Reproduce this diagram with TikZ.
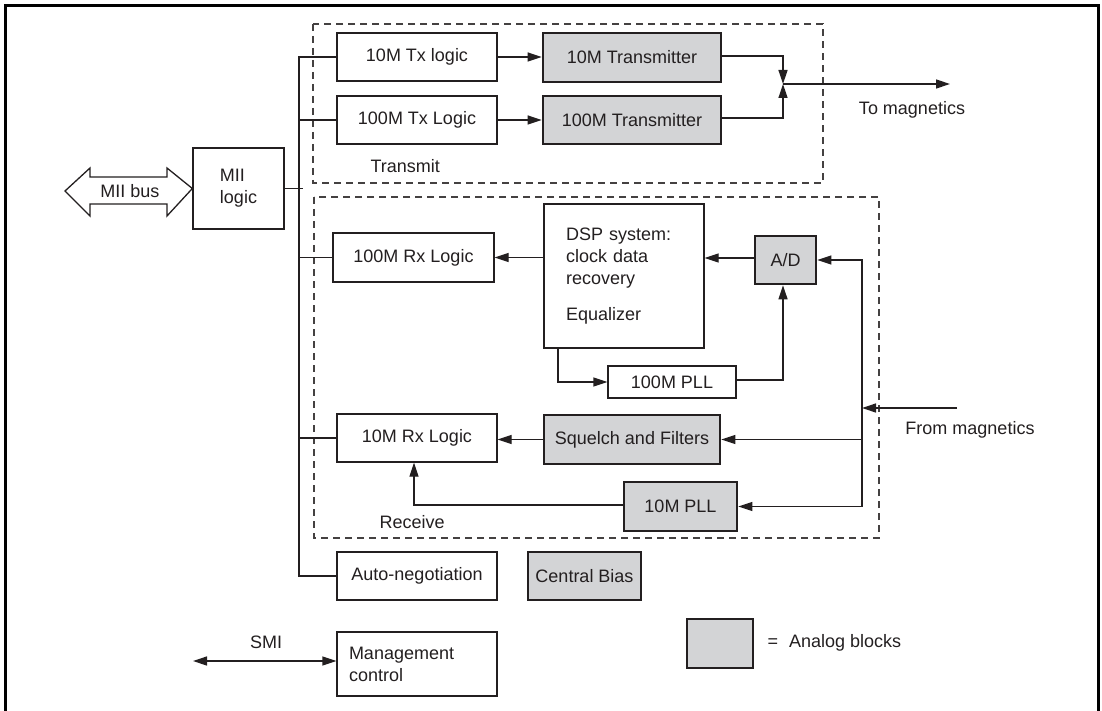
\documentclass[tikz,border=0pt]{standalone}
\usepackage{fontspec}
\setmainfont{Liberation Sans}
\usetikzlibrary{arrows.meta}
\definecolor{ink}{HTML}{231F20}
\definecolor{analog}{HTML}{D3D4D6}
\begin{document}
\begin{tikzpicture}[x=0.5pt, y=-0.5pt, >={Triangle[length=7pt,width=4.5pt]},
    line width=0.65pt, draw=ink, text=ink,
    every node/.style={font=\fontsize{9}{11}\selectfont},
    blk/.style={draw=ink, fill=white, line width=0.65pt, inner sep=3pt},
    ablk/.style={blk, fill=analog, line width=1.3pt},
    lbl/.style={inner sep=0pt},
    group/.style={draw=ink!85, line width=0.6pt, dash pattern=on 3.5pt off 2.5pt},
    frame/.style={draw=black, line width=1.5pt}]
    \useasboundingbox (0,0) rectangle (1102,711);

    % 1. outer frame and the two dashed groups
    \draw[frame] (5,716) -- (5,6) -- (1098,6) -- (1098,716);
    \draw[group] (313,24) rectangle (823,183);
    \draw[group] (314,197) rectangle (879,538);

    % 2. MII logic and the MII bus arrow
    \node[blk, minimum width=45.5pt, minimum height=40.5pt, align=left] (mii) at (238.5,188.5) {MII\\logic};
    \draw[fill=white] (mii.west) -- (167,168) -- (167,177) -- (90,177) -- (90,168) -- (65,191)
        -- (90,216) -- (90,204) -- (167,204) -- (167,216) -- cycle;
    \node[lbl] (miibus) at (130,191) {MII bus};

    % 3. transmit path
    \node[blk, minimum width=80pt, minimum height=24pt] (tx10) at (417,57) {10M Tx logic};
    \node[blk, minimum width=80pt, minimum height=24pt] (tx100) at (417,120) {100M Tx Logic};
    \node[ablk, minimum width=89pt, minimum height=24.5pt] (xmit10) at (632,57.5) {10M Transmitter};
    \node[ablk, minimum width=89pt, minimum height=24pt] (xmit100) at (632,120) {100M Transmitter};
    \draw[->] (tx10.east) -- (xmit10.west |- tx10.east);
    \draw[->] (tx100.east) -- (xmit100.west |- tx100.east);
    \coordinate (merge) at (783,84);
    \coordinate (tomag) at (950,84);
    \draw[->] ([yshift=0.75pt]xmit10.east) -| (merge);
    \draw[->] ([yshift=1pt]xmit100.east) -| (merge);
    \draw[->] (merge) -- (tomag);
    \node[lbl] (tomaglbl) at (912,110) {To magnetics};
    \node[lbl, anchor=west] (xmitlbl) at (370,166) {Transmit};

    % 4. receive path, 100M
    \node[blk, minimum width=80pt, minimum height=72pt, text width=58pt, inner xsep=11pt, align=left] (dsp) at (624,276)
        {DSP system:\\clock data\\recovery\\[7pt]Equalizer};
    \node[blk, minimum width=80.5pt, minimum height=24.5pt] (rx100) at (413.5,257.5) {100M Rx Logic};
    \node[ablk, minimum width=30.5pt, minimum height=24pt] (ad) at (785.5,260) {A/D};
    \node[blk, minimum width=64pt, minimum height=16pt] (pll100) at (672,382) {100M PLL};
    \coordinate (adout) at ([yshift=1pt]ad.west);
    \draw[->] (dsp.west |- rx100.east) -- (rx100.east);
    \draw[->] (adout) -- (dsp.east |- adout);
    \draw[->] ([xshift=-33pt]dsp.south) |- (pll100.west);
    \draw[->] ([yshift=1pt]pll100.east) -| ([xshift=-1.25pt]ad.south);

    % 5. receive path, 10M
    \node[ablk, minimum width=88pt, minimum height=24.5pt] (sqf) at (632,439.5) {Squelch and Filters};
    \node[blk, minimum width=80pt, minimum height=24pt] (rx10) at (417,438) {10M Rx Logic};
    \node[ablk, minimum width=56.5pt, minimum height=24.5pt] (pll10) at (680.5,506.5) {10M PLL};
    \draw[->] (sqf.west) -- (rx10.east |- sqf.west);
    \draw[->] ([yshift=0.75pt]pll10.west) -| ([xshift=-1.5pt]rx10.south);
    \node[lbl, anchor=west] (rcvlbl) at (379,522) {Receive};

    % 6. input from magnetics
    \coordinate (frommag) at (957,408);
    \coordinate (rxbus) at (862,408);
    \draw[->] (frommag) -- (rxbus);
    \draw[->] (rxbus) |- (ad.east);
    \draw[->] (rxbus) |- (sqf.east);
    \draw[->] (rxbus) |- (pll10.east);
    \node[lbl] (frommaglbl) at (970,430) {From magnetics};

    % 7. other blocks and the internal bus
    \node[blk, minimum width=80pt, minimum height=24pt] (autoneg) at (417,576) {Auto-negotiation};
    \node[ablk, minimum width=56.5pt, minimum height=24pt] (cbias) at (584.5,576) {Central Bias};
    \coordinate (bus) at (299,0);
    \draw (tx10.west) -- (tx10.west -| bus) |- (autoneg.west);
    \draw (tx100.west) -- (tx100.west -| bus);
    \draw (mii.east) -- ++(18,0);
    \draw (rx100.west) -- (rx100.west -| bus);
    \draw (rx10.west) -- (rx10.west -| bus);

    % 8. management and legend
    \node[blk, minimum width=80pt, minimum height=32pt, text width=68pt, inner xsep=6pt, align=left] (mgmt) at (417,664)
        {Management\\control};
    \coordinate (smi) at (193,661);
    \draw[<->] (smi) -- (mgmt.west |- smi);
    \node[lbl] (smilbl) at (266,642) {SMI};
    \node[ablk, minimum width=33pt, minimum height=24.5pt] (legend) at (720,643.5) {};
    \node[lbl, anchor=west] (legendlbl) at (767,643) {=\hspace{5.5pt}Analog blocks};
\end{tikzpicture}
\end{document}
